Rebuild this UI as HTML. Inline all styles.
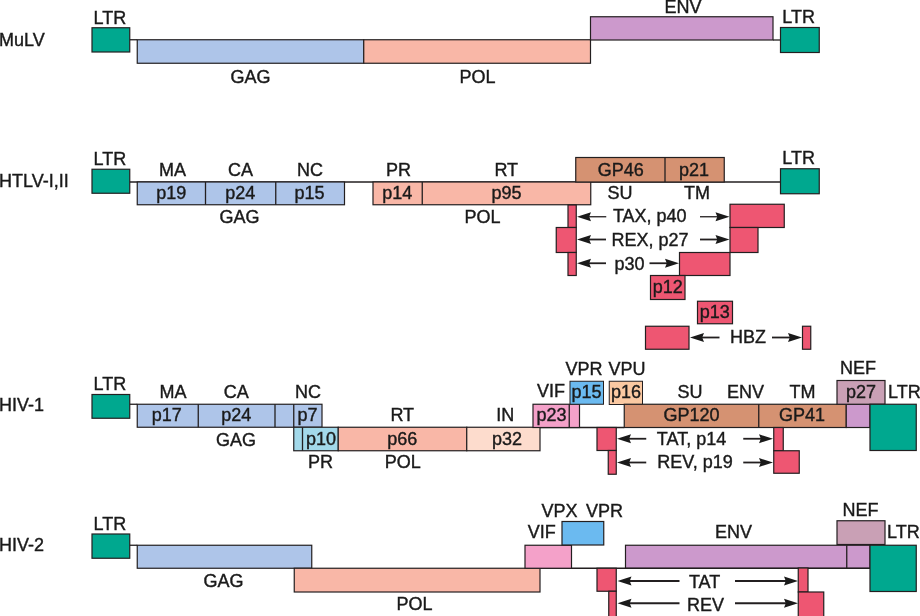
<!DOCTYPE html>
<html lang="en"><head><meta charset="utf-8"><title>Retrovirus genome organization</title>
<style>
html,body{margin:0;padding:0;background:#fff;}
body{width:920px;height:616px;overflow:hidden;}
svg{display:block;}
svg text{font-family:"Liberation Sans",Arial,Helvetica,sans-serif;font-size:18px;fill:#1a1a1a;stroke:#1a1a1a;stroke-width:0.4px;}
</style></head><body>
<svg width="920" height="616" viewBox="0 0 920 616">
<rect x="0" y="0" width="920" height="616" fill="#ffffff"/>
<text x="-1" y="45.7" text-anchor="start">MuLV</text>
<line x1="129.75" y1="39.75" x2="137.25" y2="39.75" stroke="#231f20" stroke-width="1.3"/>
<rect x="92" y="27.75" width="37.75" height="24.25" fill="#00a88f" stroke="#231f20" stroke-width="1.2"/>
<text x="109.9" y="24.2" text-anchor="middle">LTR</text>
<rect x="137.25" y="39.75" width="226.5" height="23.5" fill="#aec5e9" stroke="#231f20" stroke-width="1.2"/>
<rect x="363.75" y="39.75" width="226.75" height="23.5" fill="#f9b7a7" stroke="#231f20" stroke-width="1.2"/>
<rect x="590.5" y="16.75" width="182.5" height="23.25" fill="#cc99cc" stroke="#231f20" stroke-width="1.2"/>
<line x1="773" y1="40" x2="780.5" y2="40" stroke="#231f20" stroke-width="1.3"/>
<rect x="780.5" y="27.5" width="38.75" height="25.0" fill="#00a88f" stroke="#231f20" stroke-width="1.2"/>
<text x="798.6" y="23.2" text-anchor="middle">LTR</text>
<text x="250.6" y="83.2" text-anchor="middle">GAG</text>
<text x="477.5" y="83.2" text-anchor="middle">POL</text>
<text x="682.9" y="12.7" text-anchor="middle">ENV</text>
<text x="-1" y="187.2" text-anchor="start">HTLV-I,II</text>
<line x1="129.75" y1="182" x2="780.5" y2="182" stroke="#231f20" stroke-width="1.3"/>
<rect x="92" y="169.25" width="37.75" height="24.0" fill="#00a88f" stroke="#231f20" stroke-width="1.2"/>
<text x="109.9" y="164.7" text-anchor="middle">LTR</text>
<rect x="137.25" y="182" width="207.25" height="22.75" fill="#aec5e9" stroke="#231f20" stroke-width="1.2"/>
<line x1="205.5" y1="182" x2="205.5" y2="204.75" stroke="#231f20" stroke-width="1.3"/>
<line x1="275.75" y1="182" x2="275.75" y2="204.75" stroke="#231f20" stroke-width="1.3"/>
<rect x="373" y="182" width="217.75" height="22.75" fill="#f9b7a7" stroke="#231f20" stroke-width="1.2"/>
<line x1="422.25" y1="182" x2="422.25" y2="204.75" stroke="#231f20" stroke-width="1.3"/>
<rect x="575.75" y="157.5" width="148.5" height="24.5" fill="#d59272" stroke="#231f20" stroke-width="1.2"/>
<line x1="665" y1="157.5" x2="665" y2="182" stroke="#231f20" stroke-width="1.3"/>
<rect x="780.5" y="168.75" width="38.75" height="25.0" fill="#00a88f" stroke="#231f20" stroke-width="1.2"/>
<text x="798.6" y="163.95" text-anchor="middle">LTR</text>
<text x="172.5" y="175.7" text-anchor="middle">MA</text>
<text x="240.6" y="175.7" text-anchor="middle">CA</text>
<text x="310" y="175.7" text-anchor="middle">NC</text>
<text x="398.5" y="175.7" text-anchor="middle">PR</text>
<text x="506.25" y="175.7" text-anchor="middle">RT</text>
<text x="620.75" y="175.7" text-anchor="middle">GP46</text>
<text x="694" y="175.7" text-anchor="middle">p21</text>
<text x="171.25" y="199.45" text-anchor="middle">p19</text>
<text x="240.25" y="199.45" text-anchor="middle">p24</text>
<text x="309.4" y="199.45" text-anchor="middle">p15</text>
<text x="397.25" y="199.45" text-anchor="middle">p14</text>
<text x="506.5" y="199.45" text-anchor="middle">p95</text>
<text x="620.1" y="198.95" text-anchor="middle">SU</text>
<text x="696.9" y="198.95" text-anchor="middle">TM</text>
<text x="239.4" y="223.2" text-anchor="middle">GAG</text>
<text x="482.6" y="223.2" text-anchor="middle">POL</text>
<rect x="568" y="205" width="8.25" height="22.5" fill="#ee5672" stroke="#231f20" stroke-width="1.2"/>
<rect x="556.25" y="227.5" width="20.0" height="25.0" fill="#ee5672" stroke="#231f20" stroke-width="1.2"/>
<rect x="568" y="252.5" width="8.25" height="23.0" fill="#ee5672" stroke="#231f20" stroke-width="1.2"/>
<rect x="730" y="204.25" width="54.25" height="23.25" fill="#ee5672" stroke="#231f20" stroke-width="1.2"/>
<rect x="730" y="227.5" width="28" height="25.0" fill="#ee5672" stroke="#231f20" stroke-width="1.2"/>
<rect x="679.5" y="252.5" width="50.5" height="23.0" fill="#ee5672" stroke="#231f20" stroke-width="1.2"/>
<rect x="650.5" y="275.5" width="34.5" height="24.0" fill="#ee5672" stroke="#231f20" stroke-width="1.2"/>
<rect x="697.5" y="301.25" width="35.0" height="22.5" fill="#ee5672" stroke="#231f20" stroke-width="1.2"/>
<rect x="645.5" y="326.25" width="43.5" height="23.0" fill="#ee5672" stroke="#231f20" stroke-width="1.2"/>
<rect x="802.5" y="326.25" width="8.25" height="23.0" fill="#ee5672" stroke="#231f20" stroke-width="1.2"/>
<line x1="606.25" y1="216.75" x2="585.4" y2="216.75" stroke="#231f20" stroke-width="1.3"/>
<path d="M577 216.75 L591 212.35 L589.2 216.75 L591 221.15 Z" fill="#1a1a1a"/>
<line x1="700" y1="216.75" x2="721.1" y2="216.75" stroke="#231f20" stroke-width="1.3"/>
<path d="M729.5 216.75 L715.5 212.35 L717.3 216.75 L715.5 221.15 Z" fill="#1a1a1a"/>
<line x1="606" y1="239.5" x2="585.4" y2="239.5" stroke="#231f20" stroke-width="1.8"/>
<path d="M577 239.5 L591 235.1 L589.2 239.5 L591 243.9 Z" fill="#1a1a1a"/>
<line x1="700" y1="239.5" x2="721.1" y2="239.5" stroke="#231f20" stroke-width="1.8"/>
<path d="M729.5 239.5 L715.5 235.1 L717.3 239.5 L715.5 243.9 Z" fill="#1a1a1a"/>
<line x1="606" y1="263.25" x2="585.4" y2="263.25" stroke="#231f20" stroke-width="1.8"/>
<path d="M577 263.25 L591 258.85 L589.2 263.25 L591 267.65 Z" fill="#1a1a1a"/>
<line x1="649.5" y1="263.25" x2="670.6" y2="263.25" stroke="#231f20" stroke-width="1.8"/>
<path d="M679 263.25 L665 258.85 L666.8 263.25 L665 267.65 Z" fill="#1a1a1a"/>
<line x1="719.5" y1="337.5" x2="698.4" y2="337.5" stroke="#231f20" stroke-width="1.8"/>
<path d="M690 337.5 L704 333.1 L702.2 337.5 L704 341.9 Z" fill="#1a1a1a"/>
<line x1="772" y1="337.5" x2="793.6" y2="337.5" stroke="#231f20" stroke-width="1.8"/>
<path d="M802 337.5 L788 333.1 L789.8 337.5 L788 341.9 Z" fill="#1a1a1a"/>
<text x="649.75" y="221.95" text-anchor="middle">TAX, p40</text>
<text x="650" y="245.7" text-anchor="middle">REX, p27</text>
<text x="629.5" y="270.2" text-anchor="middle">p30</text>
<text x="667.75" y="293.45" text-anchor="middle">p12</text>
<text x="714.75" y="317.7" text-anchor="middle">p13</text>
<text x="748.1" y="342.7" text-anchor="middle">HBZ</text>
<text x="-1" y="410.95" text-anchor="start">HIV-1</text>
<line x1="129.75" y1="404.25" x2="137.25" y2="404.25" stroke="#231f20" stroke-width="1.3"/>
<rect x="92" y="394.5" width="37.75" height="23.75" fill="#00a88f" stroke="#231f20" stroke-width="1.2"/>
<text x="109.9" y="390.2" text-anchor="middle">LTR</text>
<rect x="137.25" y="404.25" width="184.75" height="23.0" fill="#aec5e9" stroke="#231f20" stroke-width="1.2"/>
<line x1="198.25" y1="404.25" x2="198.25" y2="427.25" stroke="#231f20" stroke-width="1.3"/>
<line x1="275" y1="404.25" x2="275" y2="427.25" stroke="#231f20" stroke-width="1.3"/>
<line x1="293.75" y1="404.25" x2="293.75" y2="427.25" stroke="#231f20" stroke-width="1.3"/>
<rect x="293.75" y="427.25" width="44.5" height="23.5" fill="#a3d9ea" stroke="#231f20" stroke-width="1.2"/>
<line x1="302.5" y1="427.25" x2="302.5" y2="450.75" stroke="#231f20" stroke-width="1.3"/>
<rect x="338.25" y="427.25" width="128.5" height="23.5" fill="#f9b7a7" stroke="#231f20" stroke-width="1.2"/>
<rect x="466.75" y="427.25" width="73.25" height="23.5" fill="#fddccd" stroke="#231f20" stroke-width="1.2"/>
<line x1="540" y1="427.5" x2="624.25" y2="427.5" stroke="#231f20" stroke-width="1.3"/>
<rect x="533" y="404.25" width="46.5" height="23.25" fill="#f4a1c9" stroke="#231f20" stroke-width="1.2"/>
<line x1="569.25" y1="404.25" x2="569.25" y2="427.5" stroke="#231f20" stroke-width="1.3"/>
<rect x="570" y="381.25" width="33.5" height="23.0" fill="#6bbaf0" stroke="#231f20" stroke-width="1"/>
<rect x="609.25" y="381.25" width="33.25" height="23.25" fill="#fbc9a2" stroke="#231f20" stroke-width="1"/>
<rect x="624.25" y="404.25" width="222.0" height="23.25" fill="#d59272" stroke="#231f20" stroke-width="1.2"/>
<line x1="758.75" y1="404.25" x2="758.75" y2="427.5" stroke="#231f20" stroke-width="1.3"/>
<rect x="846.25" y="404.25" width="23.75" height="23.25" fill="#cc99cc" stroke="#231f20" stroke-width="1.2"/>
<rect x="837" y="380.5" width="48" height="23.75" fill="#c9a0b5" stroke="#231f20" stroke-width="1.2"/>
<rect x="870" y="404.25" width="46.25" height="46.25" fill="#00a88f" stroke="#231f20" stroke-width="1.2"/>
<rect x="597" y="427.5" width="19.25" height="23.0" fill="#ee5672" stroke="#231f20" stroke-width="1.2"/>
<rect x="608.25" y="450.5" width="8.0" height="23.75" fill="#ee5672" stroke="#231f20" stroke-width="1.2"/>
<rect x="773.75" y="427.5" width="9.5" height="23.25" fill="#ee5672" stroke="#231f20" stroke-width="1.2"/>
<rect x="773.75" y="450.75" width="25.5" height="22.5" fill="#ee5672" stroke="#231f20" stroke-width="1.2"/>
<line x1="646.25" y1="438.75" x2="625.4" y2="438.75" stroke="#231f20" stroke-width="1.8"/>
<path d="M617 438.75 L631 434.35 L629.2 438.75 L631 443.15 Z" fill="#1a1a1a"/>
<line x1="743.25" y1="438.75" x2="764.6" y2="438.75" stroke="#231f20" stroke-width="1.8"/>
<path d="M773 438.75 L759 434.35 L760.8 438.75 L759 443.15 Z" fill="#1a1a1a"/>
<line x1="646.25" y1="462.5" x2="625.4" y2="462.5" stroke="#231f20" stroke-width="1.8"/>
<path d="M617 462.5 L631 458.1 L629.2 462.5 L631 466.9 Z" fill="#1a1a1a"/>
<line x1="743.25" y1="462.5" x2="764.6" y2="462.5" stroke="#231f20" stroke-width="1.8"/>
<path d="M773 462.5 L759 458.1 L760.8 462.5 L759 466.9 Z" fill="#1a1a1a"/>
<text x="173.1" y="398.2" text-anchor="middle">MA</text>
<text x="236.25" y="398.2" text-anchor="middle">CA</text>
<text x="308" y="398.2" text-anchor="middle">NC</text>
<text x="166.75" y="421.45" text-anchor="middle">p17</text>
<text x="236.25" y="421.45" text-anchor="middle">p24</text>
<text x="307.5" y="421.45" text-anchor="middle">p7</text>
<text x="402.25" y="421.45" text-anchor="middle">RT</text>
<text x="505.25" y="421.45" text-anchor="middle">IN</text>
<text x="551.6" y="421.45" text-anchor="middle">p23</text>
<text x="691.4" y="421.45" text-anchor="middle">GP120</text>
<text x="801.9" y="421.45" text-anchor="middle">GP41</text>
<text x="320.9" y="445.2" text-anchor="middle">p10</text>
<text x="236.1" y="446.45" text-anchor="middle">GAG</text>
<text x="320.6" y="467.7" text-anchor="middle">PR</text>
<text x="402.25" y="444.7" text-anchor="middle">p66</text>
<text x="507.1" y="444.7" text-anchor="middle">p32</text>
<text x="402.75" y="468.2" text-anchor="middle">POL</text>
<text x="551" y="397.2" text-anchor="middle">VIF</text>
<text x="584.1" y="374.7" text-anchor="middle">VPR</text>
<text x="627.1" y="374.7" text-anchor="middle">VPU</text>
<text x="586.6" y="398.2" text-anchor="middle">p15</text>
<text x="626.1" y="398.2" text-anchor="middle">p16</text>
<text x="690" y="397.7" text-anchor="middle">SU</text>
<text x="745.4" y="397.7" text-anchor="middle">ENV</text>
<text x="802.6" y="397.7" text-anchor="middle">TM</text>
<text x="858.1" y="373.95" text-anchor="middle">NEF</text>
<text x="861" y="397.7" text-anchor="middle">p27</text>
<text x="888" y="397.7" text-anchor="start">LTR</text>
<text x="691.5" y="445.2" text-anchor="middle">TAT, p14</text>
<text x="695" y="468.45" text-anchor="middle">REV, p19</text>
<text x="-1" y="551.45" text-anchor="start">HIV-2</text>
<line x1="129.75" y1="545.25" x2="137.25" y2="545.25" stroke="#231f20" stroke-width="1.3"/>
<rect x="92" y="534" width="37.75" height="24.25" fill="#00a88f" stroke="#231f20" stroke-width="1.2"/>
<text x="109.9" y="530.2" text-anchor="middle">LTR</text>
<rect x="137.25" y="545.25" width="174.5" height="23.0" fill="#aec5e9" stroke="#231f20" stroke-width="1.2"/>
<rect x="294.25" y="568.25" width="245.75" height="23.75" fill="#f9b7a7" stroke="#231f20" stroke-width="1.2"/>
<line x1="540" y1="568.25" x2="870" y2="568.25" stroke="#231f20" stroke-width="1.3"/>
<rect x="525" y="545.25" width="46.5" height="23.0" fill="#f4a1c9" stroke="#231f20" stroke-width="1.2"/>
<rect x="562" y="521.5" width="41.75" height="23.5" fill="#6bbaf0" stroke="#231f20" stroke-width="1.2"/>
<rect x="625.5" y="545.25" width="244.5" height="22.75" fill="#cc99cc" stroke="#231f20" stroke-width="1.2"/>
<line x1="846.75" y1="545.25" x2="846.75" y2="568" stroke="#231f20" stroke-width="1.3"/>
<rect x="837" y="520.75" width="48" height="23.75" fill="#c9a0b5" stroke="#231f20" stroke-width="1.2"/>
<rect x="870" y="545.25" width="46.25" height="46.25" fill="#00a88f" stroke="#231f20" stroke-width="1.2"/>
<rect x="597" y="568.25" width="19.25" height="23.0" fill="#ee5672" stroke="#231f20" stroke-width="1.2"/>
<rect x="608.75" y="591.25" width="7.5" height="25.75" fill="#ee5672" stroke="#231f20" stroke-width="1.2"/>
<rect x="798.25" y="568" width="9.75" height="24" fill="#ee5672" stroke="#231f20" stroke-width="1.2"/>
<rect x="798.25" y="592" width="25.5" height="25" fill="#ee5672" stroke="#231f20" stroke-width="1.2"/>
<line x1="679.5" y1="581" x2="625.9" y2="581" stroke="#231f20" stroke-width="1.8"/>
<path d="M617.5 581 L631.5 576.6 L629.7 581 L631.5 585.4 Z" fill="#1a1a1a"/>
<line x1="735" y1="581" x2="789.6" y2="581" stroke="#231f20" stroke-width="1.8"/>
<path d="M798 581 L784 576.6 L785.8 581 L784 585.4 Z" fill="#1a1a1a"/>
<line x1="679.5" y1="603.25" x2="625.9" y2="603.25" stroke="#231f20" stroke-width="1.8"/>
<path d="M617.5 603.25 L631.5 598.85 L629.7 603.25 L631.5 607.65 Z" fill="#1a1a1a"/>
<line x1="735" y1="603.25" x2="789.6" y2="603.25" stroke="#231f20" stroke-width="1.8"/>
<path d="M798 603.25 L784 598.85 L785.8 603.25 L784 607.65 Z" fill="#1a1a1a"/>
<text x="223.4" y="587.2" text-anchor="middle">GAG</text>
<text x="414.6" y="609.7" text-anchor="middle">POL</text>
<text x="541.75" y="538.45" text-anchor="middle">VIF</text>
<text x="559.4" y="516.7" text-anchor="middle">VPX</text>
<text x="604.6" y="516.7" text-anchor="middle">VPR</text>
<text x="733.5" y="537.95" text-anchor="middle">ENV</text>
<text x="860.6" y="515.95" text-anchor="middle">NEF</text>
<text x="887" y="538.45" text-anchor="start">LTR</text>
<text x="704.6" y="588.45" text-anchor="middle">TAT</text>
<text x="705.5" y="611.45" text-anchor="middle">REV</text>
</svg>
</body></html>
